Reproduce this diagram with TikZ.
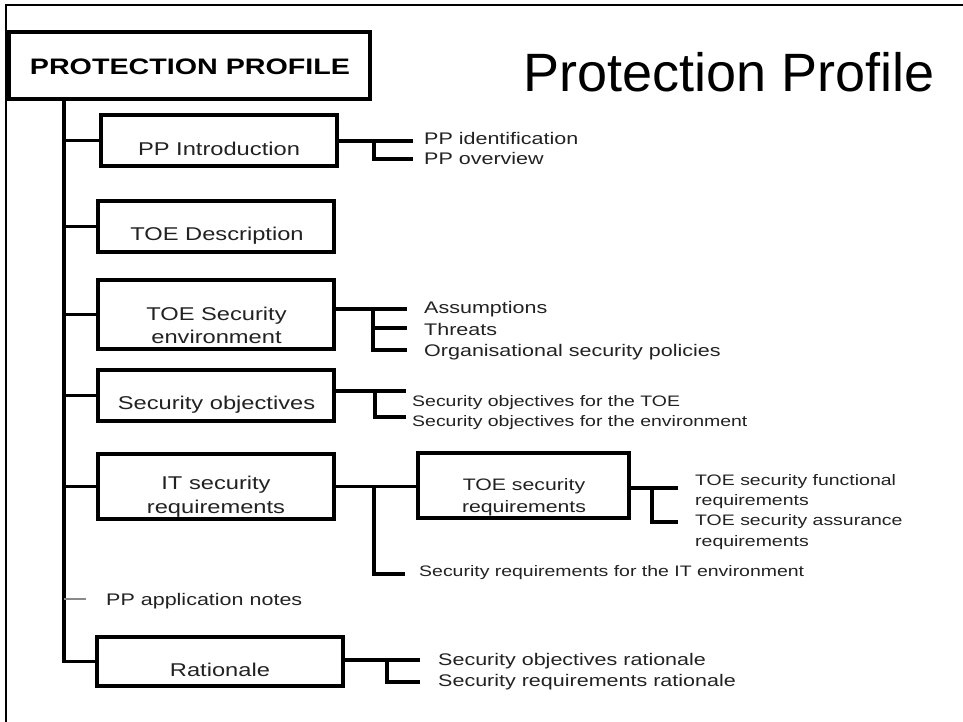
\documentclass[tikz,border=0pt]{standalone}
\usepackage{fontspec}
\setmainfont{Liberation Sans}
\newfontfamily\dfont[FakeStretch=1.28]{Liberation Sans}
\usetikzlibrary{calc}
\definecolor{txt}{HTML}{222222}
\definecolor{notegray}{HTML}{8A8A8A}
\begin{document}
\begin{tikzpicture}[x=1pt,y=-1pt,
  frame/.style={line width=2.6pt,black},
  box/.style={draw=black,line width=3.2pt,fill=white,inner sep=0pt},
  conn/.style={line width=3.2pt,black},
  boxtxt/.style={inner sep=0pt,anchor=base,text=txt,font=\dfont\fontsize{18.5}{22}\selectfont},
  boxtxts/.style={boxtxt,font=\dfont\fontsize{16.6}{20}\selectfont},
  lbl/.style={inner sep=0pt,anchor=base west,text=txt,font=\dfont\fontsize{16.8}{20}\selectfont},
  lbls/.style={lbl,font=\dfont\fontsize{15.2}{19}\selectfont}]
\useasboundingbox (0,0) rectangle (963,722);
\fill[white] (0,0) rectangle (963,722);

% frame
\coordinate (fl) at (6,722);
\coordinate (fc) at (6,5);
\coordinate (fr) at (963,5);
\draw[frame] (fl) -- (fc) -- (fr);

% title
\node[font=\fontsize{54}{60}\selectfont, anchor=base west, inner sep=0pt] (title) at (523,92) {Protection Profile};

% boxes
\node[box, minimum width=361pt, minimum height=67pt] (pp) at (189.5,65.5) {};
\node[box, minimum width=236pt, minimum height=51pt] (intro) at (219,140.5) {};
\node[box, minimum width=236pt, minimum height=51pt] (desc) at (216,226.5) {};
\node[box, minimum width=236pt, minimum height=69pt] (env) at (216,314.5) {};
\node[box, minimum width=236pt, minimum height=51pt] (obj) at (216,395.5) {};
\node[box, minimum width=236pt, minimum height=65pt] (itreq) at (216,486.5) {};
\node[box, minimum width=211pt, minimum height=65pt] (tsreq) at (523.5,485.5) {};
\node[box, minimum width=246pt, minimum height=49pt] (rat) at (220,661.5) {};

% box texts
\node[inner sep=0pt, anchor=base, text=black, font=\dfont\bfseries\fontsize{22.4}{26}\selectfont] (ppt) at (190,75) {PROTECTION PROFILE};
\node[boxtxt] (introt) at (219,155.3) {PP Introduction};
\node[boxtxt] (desct) at (217,240.7) {TOE Description};
\node[boxtxt] (envt1) at (216.5,320) {TOE Security};
\node[boxtxt] (envt2) at (216.5,343.5) {environment};
\node[boxtxt] (objt) at (216.5,409.3) {Security objectives};
\node[boxtxt] (itreqt1) at (216,489) {IT security};
\node[boxtxt] (itreqt2) at (216,513) {requirements};
\node[boxtxts] (tsreqt1) at (524,490) {TOE security};
\node[boxtxts] (tsreqt2) at (524,512.7) {requirements};
\node[boxtxt] (ratt) at (220,676) {Rationale};

% trunk
\coordinate (tr) at (64,99);
\draw[conn] (tr) |- (rat.west);
\draw[conn] (tr |- intro.west) -- (intro.west);
\draw[conn] (tr |- desc.west) -- (desc.west);
\draw[conn] (tr |- env.west) -- (env.west);
\draw[conn] (tr |- obj.west) -- (obj.west);
\draw[conn] (tr |- itreq.west) -- (itreq.west);
\coordinate (an) at (86,599);
\draw[notegray, line width=1.6pt] (tr |- an) -- (an);
\node[lbl] (notes) at (106,605) {PP application notes};

% PP introduction branches
\coordinate (i1) at (413,141);
\coordinate (i2) at (413,159);
\coordinate (ib) at (374,141);
\draw[conn] (intro.east |- i1) -- (i1);
\draw[conn] (ib) |- (i2);
\node[lbl] (ident) at (424,144.3) {PP identification};
\node[lbl] (overv) at (424,164.3) {PP overview};

% environment branches
\coordinate (e1) at (407,309);
\coordinate (e2) at (407,328);
\coordinate (e3) at (407,350);
\coordinate (eb) at (373,309);
\draw[conn] (env.east |- e1) -- (e1);
\draw[conn] (eb) |- (e3);
\draw[conn] (eb |- e2) -- (e2);
\node[lbl] (assum) at (424,313.3) {Assumptions};
\node[lbl] (threat) at (424,335) {Threats};
\node[lbl] (osp) at (424,356) {Organisational security policies};

% objectives branches
\coordinate (o1) at (406,391);
\coordinate (o2) at (406,417);
\coordinate (ob) at (375,391);
\draw[conn] (obj.east |- o1) -- (o1);
\draw[conn] (ob) |- (o2);
\node[lbls] (otoe) at (412,406) {Security objectives for the TOE};
\node[lbls] (oenv) at (412,426.7) {Security objectives for the environment};

% IT security requirements
\draw[conn] (itreq.east) -- (itreq.east -| tsreq.west);
\coordinate (sb) at (374,487);
\coordinate (s1) at (405,574);
\draw[conn] (sb) |- (s1);
\node[lbls] (srit) at (419,576.7) {Security requirements for the IT environment};

% TOE security requirements branches
\coordinate (t1) at (678,488);
\coordinate (t2) at (678,522);
\coordinate (tb) at (652,488);
\draw[conn] (tsreq.east |- t1) -- (t1);
\draw[conn] (tb) |- (t2);
\node[lbls] (tf1) at (695,485) {TOE security functional};
\node[lbls] (tf2) at (695,505) {requirements};
\node[lbls] (ta1) at (695,525) {TOE security assurance};
\node[lbls] (ta2) at (695,546) {requirements};

% rationale branches
\coordinate (r1) at (420,660);
\coordinate (r2) at (420,682);
\coordinate (rb) at (387,660);
\draw[conn] (rat.east |- r1) -- (r1);
\draw[conn] (rb) |- (r2);
\node[lbl] (sor) at (438,665) {Security objectives rationale};
\node[lbl] (srr) at (438,686.7) {Security requirements rationale};
\end{tikzpicture}
\end{document}
